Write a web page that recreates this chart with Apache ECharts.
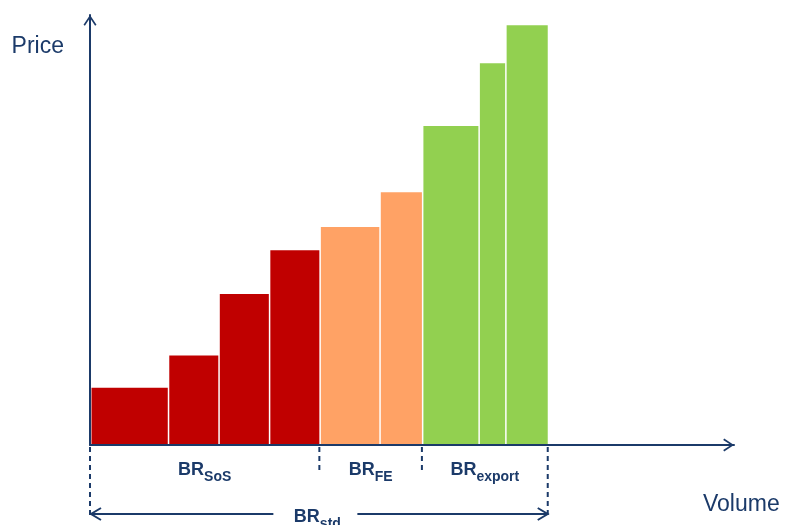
<!DOCTYPE html>
<html><head><meta charset="utf-8">
<script src="https://cdn.jsdelivr.net/npm/echarts@6/dist/echarts.min.js"></script>
<style>html,body{margin:0;padding:0;background:#fff}#c{width:785px;height:525px}</style>
</head><body><div id="c"></div>
<script>
// ---- data ----
const volumes = [15.7, 10.2, 10.2, 10.2, 12.1, 8.6, 11.4, 5.4, 8.6];
const prices  = [13.3, 20.8, 35.1, 45.3, 50.7, 58.8, 74.2, 88.8, 97.6];
const groups  = ['SoS', 'SoS', 'SoS', 'SoS', 'FE', 'FE', 'export', 'export', 'export'];
const groupNames = ['SoS', 'FE', 'export'];
const totalSub = 'std';
const axisNames = ['Price', 'Volume'];

// ---- styles ----
const NAVY = '#1B3A69';
const FONT = 'Liberation Sans, Arial, sans-serif';
const groupColors = { SoS: '#C00000', FE: '#FFA265', export: '#92D050' };

// build bars [start, end, price, groupIdx]
const bars = [];
let cum = 0;
volumes.forEach((v, i) => {
  bars.push([cum, cum + v, prices[i], groupNames.indexOf(groups[i])]);
  cum += v;
});
// group spans
const spans = groupNames.map((g, gi) => {
  const b = bars.filter(r => r[3] === gi);
  return [b[0][0], b[b.length - 1][1], gi];
});
const total = [[0, cum]];

const chevron = 'path://M6.5,0 L13,9.8 L11.6,10.8 L6.5,3 L1.4,10.8 L0,9.8 Z';
const richLabel = {
  b: { fontFamily: FONT, fontSize: 18, fontWeight: 'bold', fill: NAVY, lineHeight: 28 },
  s: { fontFamily: FONT, fontSize: 14, fontWeight: 'bold', fill: NAVY, lineHeight: 28, verticalAlign: 'bottom' }
};
function dashed(x, y1, y2) {
  return { type: 'line', shape: { x1: x, y1: y1, x2: x, y2: y2 },
    style: { stroke: NAVY, lineWidth: 2, lineDash: [5, 4] } };
}

const chart = echarts.init(document.getElementById('c'), null, { renderer: 'canvas' });
chart.setOption({
  backgroundColor: '#fff',
  animation: false,
  grid: { left: 90, right: 51, top: 15, bottom: 80 },
  xAxis: {
    type: 'value', min: 0, max: 130,
    name: axisNames[1], nameLocation: 'end', nameGap: -31,
    nameTextStyle: { fontFamily: FONT, fontSize: 23, color: NAVY, align: 'left', verticalAlign: 'top', padding: [48, 0, 0, 0] },
    axisLine: { show: true, onZero: false, symbol: ['none', chevron], symbolSize: [13, 10.8], symbolOffset: [0, -5.4],
      lineStyle: { color: NAVY, width: 2 } },
    axisTick: { show: false }, axisLabel: { show: false }, splitLine: { show: false }
  },
  yAxis: {
    type: 'value', min: 0, max: 100,
    name: axisNames[0], nameLocation: 'end', nameGap: -32,
    nameTextStyle: { fontFamily: FONT, fontSize: 23, color: NAVY, align: 'right', verticalAlign: 'middle', padding: [0, 26, 0, 0] },
    axisLine: { show: true, onZero: false, symbol: ['none', chevron], symbolSize: [13, 10.8], symbolOffset: [0, -5.4],
      lineStyle: { color: NAVY, width: 2 } },
    axisTick: { show: false }, axisLabel: { show: false }, splitLine: { show: false }
  },
  series: [
    {
      type: 'custom', name: 'bars', data: bars, silent: true,
      renderItem(params, api) {
        const a = api.coord([api.value(0), api.value(2)]);
        const b = api.coord([api.value(1), 0]);
        const g = groupNames[api.value(3)];
        return { type: 'rect',
          shape: { x: a[0] + 1.5, y: a[1], width: b[0] - a[0] - 1.5, height: b[1] - a[1] - 1 },
          style: { fill: groupColors[g] } };
      }
    },
    {
      type: 'custom', name: 'groups', data: spans, clip: false, silent: true, z: 3,
      renderItem(params, api) {
        const gi = api.value(2);
        const ps = api.coord([api.value(0), 0]);
        const pe = api.coord([api.value(1), 0]);
        const y0 = ps[1];
        const first = gi === 0, last = gi === groupNames.length - 1;
        const ch = [dashed(ps[0], y0 + 2, first ? y0 + 70 : y0 + 26)];
        if (last) ch.push(dashed(pe[0], y0 + 2, y0 + 70));
        ch.push({ type: 'text', style: {
          text: '{b|BR}{s|' + groupNames[gi] + '}', rich: richLabel,
          x: (ps[0] + pe[0]) / 2, y: y0 + 25, align: 'center', verticalAlign: 'middle' } });
        return { type: 'group', children: ch };
      }
    },
    {
      type: 'custom', name: 'total', data: total, clip: false, silent: true, z: 3,
      renderItem(params, api) {
        const ps = api.coord([api.value(0), 0]);
        const pe = api.coord([api.value(1), 0]);
        const y = ps[1] + 69;
        const xa = ps[0] + 1, xb = pe[0];
        const mid = (xa + xb) / 2;
        const st = { stroke: NAVY, lineWidth: 2, fill: null };
        return { type: 'group', children: [
          { type: 'line', shape: { x1: xa, y1: y, x2: mid - 46, y2: y }, style: st },
          { type: 'line', shape: { x1: mid + 38, y1: y, x2: xb, y2: y }, style: st },
          { type: 'polyline', shape: { points: [[xa + 10, y - 6], [xa, y], [xa + 10, y + 6]] }, style: st },
          { type: 'polyline', shape: { points: [[xb - 10, y - 6], [xb, y], [xb - 10, y + 6]] }, style: st },
          { type: 'text', style: { text: '{b|BR}{s|' + totalSub + '}', rich: richLabel,
            x: mid - 2, y: y + 3, align: 'center', verticalAlign: 'middle' } }
        ] };
      }
    }
  ]
});
</script>
</body></html>
